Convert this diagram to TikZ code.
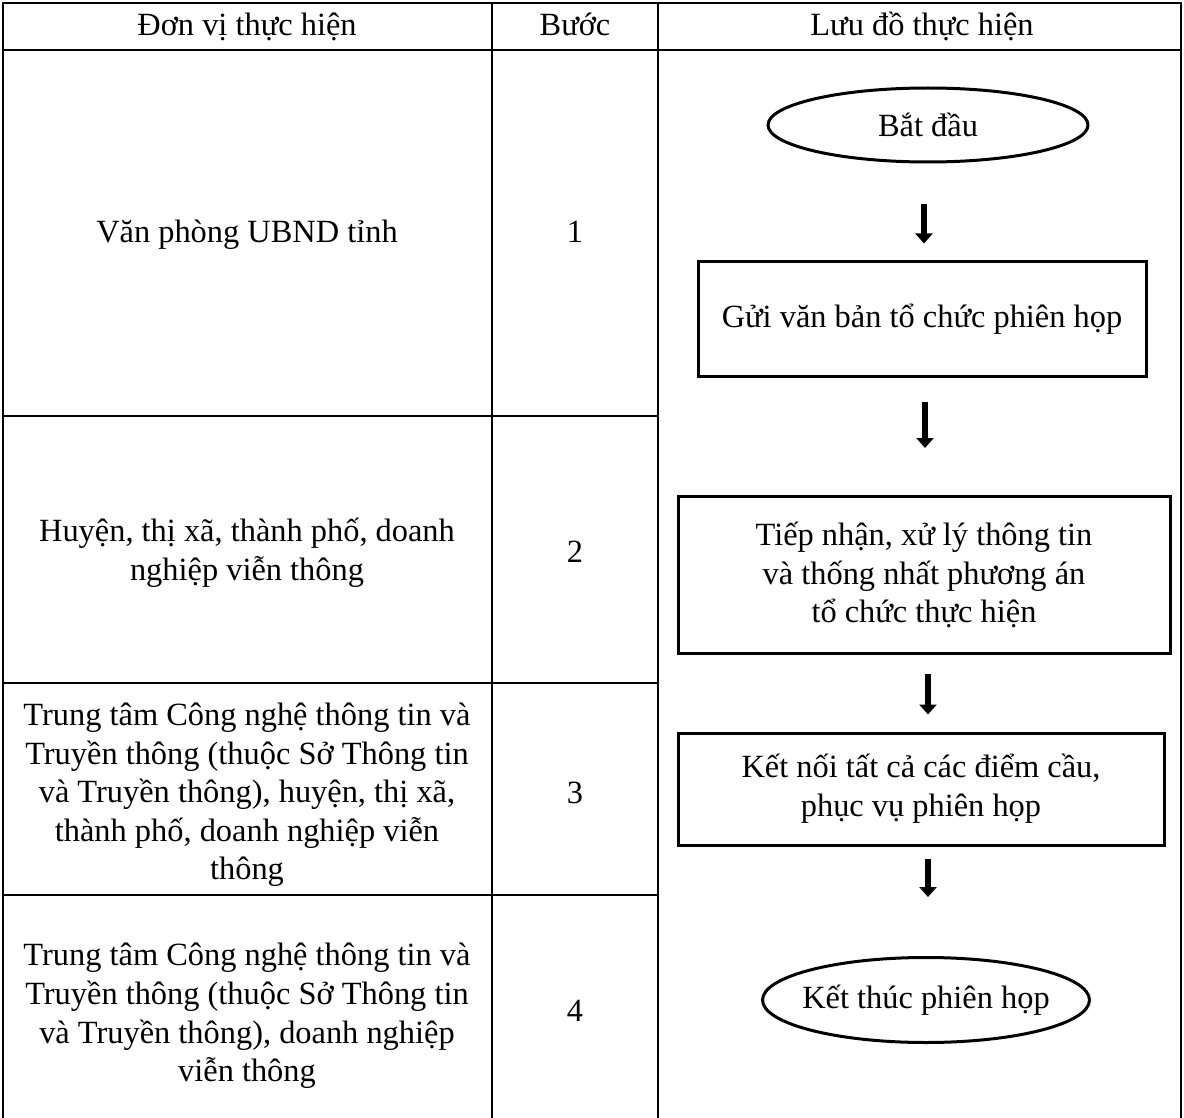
\documentclass[tikz,border=0pt]{standalone}
\usepackage{fontspec}
\setmainfont{Liberation Serif}
\usetikzlibrary{arrows.meta,shapes.geometric}

\begin{document}
\begin{tikzpicture}[x=1pt,y=-1pt,
    every node/.style={font=\fontsize{32.4}{38.6}\selectfont, align=center},
    gridline/.style={line width=2.2pt},
    flowbox/.style={draw, line width=3pt, inner sep=0pt},
    terminal/.style={draw, ellipse, line width=3pt, inner sep=0pt},
    flowarrow/.style={line width=6.5pt, -{Triangle[width=17pt,length=10pt]}}]
    \useasboundingbox (0,0) rectangle (1184,1118);

    % Table frame
    \draw[gridline] (3,1118) -- (3,3) -- (1181,3) -- (1181,1118);
    \draw[gridline] (492,3) -- (492,1118);
    \draw[gridline] (658,3) -- (658,1118);
    \draw[gridline] (3,50) -- (1181,50);
    % Row lines (first two columns only)
    \draw[gridline] (3,416) -- (658,416);
    \draw[gridline] (3,683) -- (658,683);
    \draw[gridline] (3,895) -- (658,895);

    % Header
    \node[anchor=base] (hunit) at (247,36) {Đơn vị thực hiện};
    \node[anchor=base] (hstep) at (575,36) {Bước};
    \node[anchor=base] (hflow) at (922,36) {Lưu đồ thực hiện};

    % Units
    \node[anchor=base] (unit1) at (247,243) {Văn phòng UBND tỉnh};
    \node (unit2) at (247,553) {Huyện, thị xã, thành phố, doanh\\nghiệp viễn thông};
    \node (unit3) at (247,795) {Trung tâm Công nghệ thông tin và\\Truyền thông (thuộc Sở Thông tin\\và Truyền thông), huyện, thị xã,\\thành phố, doanh nghiệp viễn\\thông};
    \node (unit4) at (247,1016) {Trung tâm Công nghệ thông tin và\\Truyền thông (thuộc Sở Thông tin\\và Truyền thông), doanh nghiệp\\viễn thông};

    % Step numbers
    \node[anchor=base] (step1) at (575,243) {1};
    \node[anchor=base] (step2) at (575,562) {2};
    \node[anchor=base] (step3) at (575,803) {3};
    \node[anchor=base] (step4) at (575,1021) {4};

    % Flow chart
    \node[terminal, minimum width=320pt, minimum height=74pt] (start) at (928,125) {Bắt đầu};
    \node[flowbox, minimum width=448pt, minimum height=114pt] (send) at (922,319) {Gửi văn bản tổ chức phiên họp};
    \node[flowbox, minimum width=492pt, minimum height=157pt] (receive) at (924,575) {Tiếp nhận, xử lý thông tin\\và thống nhất phương án\\tổ chức thực hiện};
    \node[flowbox, minimum width=486pt, minimum height=112pt] (connect) at (921,789) {Kết nối tất cả các điểm cầu,\\phục vụ phiên họp};
    \node[terminal, minimum width=327pt, minimum height=85pt] (finish) at (926,1000) {\makebox[200pt][c]{Kết thúc phiên họp}};

    % Arrows
    \draw[flowarrow, shorten <=41pt, shorten >=17pt] ([xshift=-4pt]start.south) -- ([xshift=-4pt]start.south |- send.north);
    \draw[flowarrow, shorten <=24pt, shorten >=47pt] ([xshift=3pt]send.south) -- ([xshift=3pt]send.south |- receive.north);
    \draw[flowarrow, shorten <=19pt, shorten >=17pt] ([xshift=4pt]receive.south) -- ([xshift=4pt]receive.south |- connect.north);
    \draw[flowarrow, shorten <=12pt, shorten >=59pt] ([xshift=7pt]connect.south) -- ([xshift=7pt]connect.south |- finish.north);
\end{tikzpicture}
\end{document}
